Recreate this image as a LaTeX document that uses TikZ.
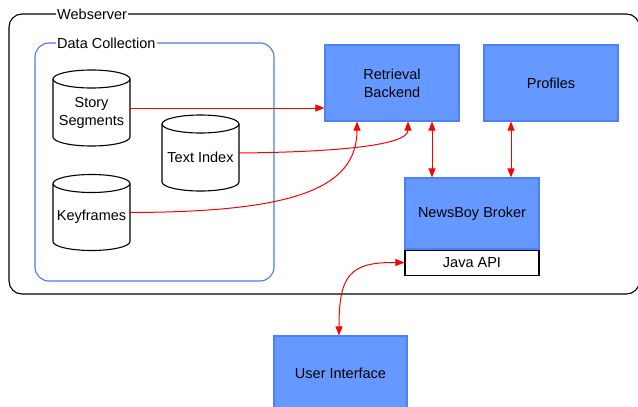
\documentclass[tikz,border=0pt]{standalone}
\usepackage{fontspec}
\setmainfont{Liberation Sans}
\usetikzlibrary{arrows.meta}
\definecolor{boxfill}{RGB}{102,153,255}
\definecolor{boxline}{RGB}{77,128,255}
\definecolor{dcline}{RGB}{77,120,240}
\definecolor{arrowred}{RGB}{255,0,0}
\newcommand\mycyl[4]{%
  % #1 name, #2 cx, #3 cy, #4 text
  \draw[cyl] (#2-38.5,#3-29) arc[start angle=180,end angle=-180,x radius=38.5,y radius=9];
  \draw[cyl] (#2-38.5,#3-29) -- (#2-38.5,#3+29) arc[start angle=180,end angle=0,x radius=38.5,y radius=9] -- (#2+38.5,#3-29);
  \node[cylbody] (#1) at (#2,#3) {};
  \node[cyltext] (#1-text) at ([yshift=-4.5pt]#1.center) {#4};
}
\tikzset{
  cyl/.style={draw=black,line width=1.1pt},
  cylbody/.style={minimum width=77pt,minimum height=76pt,inner sep=0pt},
  cyltext/.style={inner sep=0pt,align=center,font=\fontsize{14.5}{18}\selectfont},
  bluebox/.style={draw=boxline,fill=boxfill,line width=1.1pt,minimum width=134pt,align=center,inner sep=0pt,font=\fontsize{14.5}{18}\selectfont},
  framelabel/.style={fill=white,inner sep=1pt,anchor=west,font=\fontsize{14.5}{18}\selectfont},
  conn/.style={draw=arrowred,line width=1pt,-{Triangle[length=9pt,width=7pt]}},
  dconn/.style={draw=arrowred,line width=1pt,{Triangle[length=9pt,width=7pt]}-{Triangle[length=9pt,width=7pt]}},
}
\begin{document}
\begin{tikzpicture}[x=1pt,y=-1pt]
\useasboundingbox (0,0) rectangle (638,407);
% Webserver frame
\draw[line width=1.1pt,rounded corners=13pt] (9,14) rectangle (639.5,294);
\node[framelabel] (wslabel) at (56,14) {Webserver};
% Data collection frame
\draw[dcline,line width=1.1pt,rounded corners=14pt] (35,43) rectangle (274,281);
\node[framelabel] (dclabel) at (56,43) {Data Collection};
% cylinders
\mycyl{story}{91.5}{108}{Story\\Segments}
\mycyl{tindex}{200.5}{153}{Text Index}
\mycyl{keyf}{91.5}{212.5}{Keyframes}
% boxes
\node[bluebox,minimum height=76pt] (retr) at (392,83) {Retrieval\\Backend};
\node[bluebox,minimum height=76pt] (prof) at (551,83) {Profiles};
\node[bluebox,minimum height=71pt] (broker) at (472,213.5) {NewsBoy Broker};
\node[draw=black,fill=white,line width=1.1pt,minimum width=134pt,minimum height=25pt,inner sep=0pt,font=\fontsize{14.5}{18}\selectfont,anchor=north] (java) at (broker.south) {Java API};
\node[bluebox,minimum width=133pt,minimum height=74pt] (ui) at (340.5,373) {User Interface};
% connectors
\draw[conn] (story.east) -- (retr.west |- story.east);
\draw[conn] (tindex.east) .. controls (340,152) and (408,145) .. (retr.south -| 408,0);
\draw[conn] (keyf.east) .. controls (290,212) and (357,190) .. (retr.south -| 357,0);
\draw[dconn] (retr.south -| 432,0) -- (broker.north -| 432,0);
\draw[dconn] (prof.south -| 511,0) -- (broker.north -| 511,0);
\draw[dconn] (java.west) .. controls (350,262) and (339,275) .. (ui.north -| 339,0);
\end{tikzpicture}
\end{document}
